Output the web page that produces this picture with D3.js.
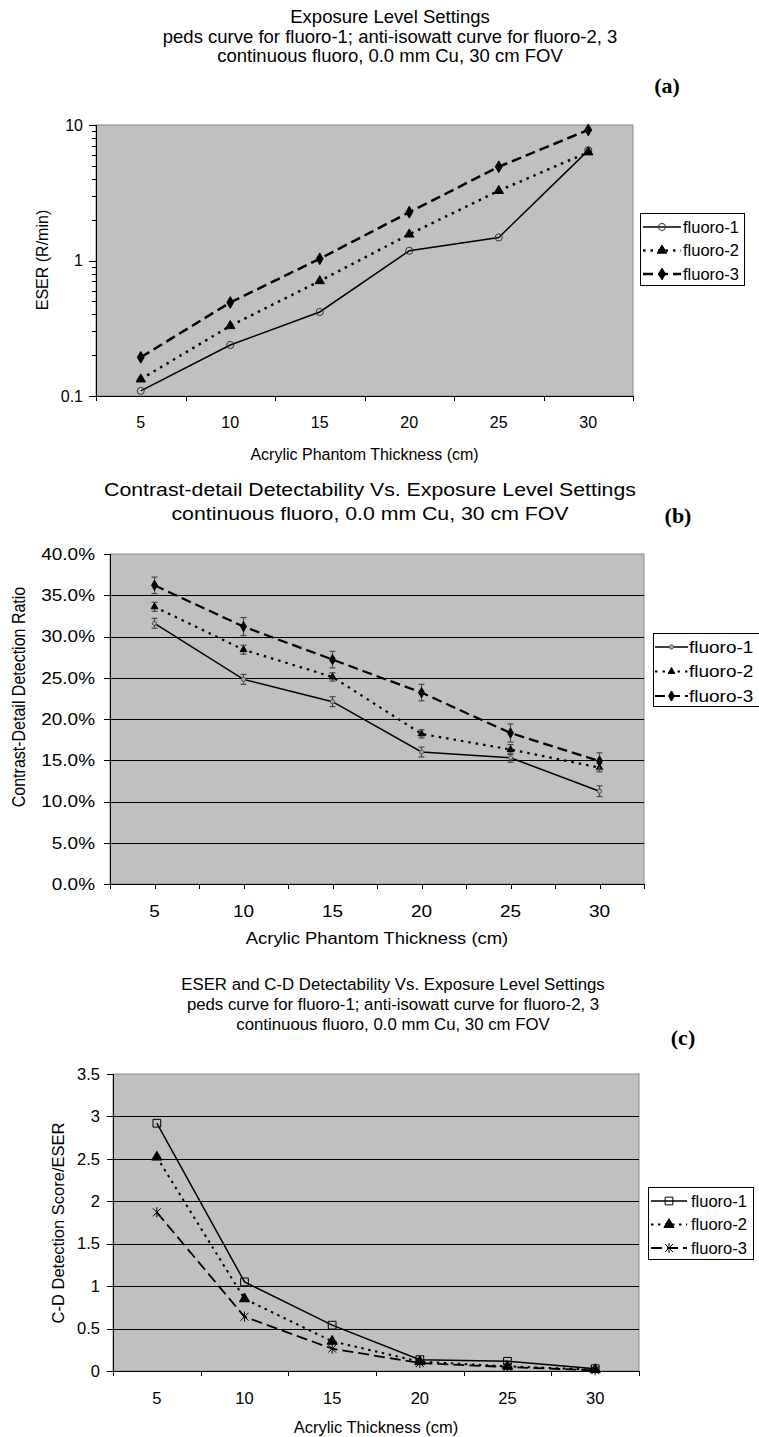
<!DOCTYPE html>
<html lang="en">
<head>
    <meta charset="utf-8">
    <title>Exposure Level Settings - ESER and C-D Detectability</title>
    <style>
        body { margin: 0; background: #fff; }
        svg { display: block; }
    </style>
    <script src="https://d3js.org/d3.v7.min.js"></script>
</head>
<body>
<script>
    // ---- data ----
    const thickness = [5, 10, 15, 20, 25, 30];
    const seriesNames = ["fluoro-1", "fluoro-2", "fluoro-3"];

    // (a) ESER (R/min)
    const eserF1 = [0.109, 0.238, 0.417, 1.18, 1.48, 6.5];
    const eserF2 = [0.133, 0.329, 0.706, 1.56, 3.27, 6.3];
    const eserF3 = [0.193, 0.49, 1.03, 2.27, 4.92, 9.2];

    // (b) contrast-detail detection ratio, with error bar half-widths
    const cdF1 = [0.316, 0.248, 0.221, 0.160, 0.153, 0.1125];
    const cdF2 = [0.336, 0.284, 0.251, 0.182, 0.163, 0.141];
    const cdF3 = [0.362, 0.312, 0.272, 0.232, 0.183, 0.149];
    const cdErrF1 = [0.006, 0.006, 0.006, 0.006, 0.0055, 0.0065];
    const cdErrF2 = [0.0055, 0.0055, 0.005, 0.005, 0.006, 0.005];
    const cdErrF3 = [0.010, 0.011, 0.010, 0.010, 0.011, 0.010];

    // (c) C-D detection score / ESER
    const ratioF1 = [2.92, 1.05, 0.54, 0.134, 0.114, 0.027];
    const ratioF2 = [2.52, 0.85, 0.35, 0.11, 0.055, 0.016];
    const ratioF3 = [1.87, 0.64, 0.263, 0.094, 0.047, 0.008];

    const titleA = ["Exposure Level Settings",
        "peds curve for fluoro-1; anti-isowatt curve for fluoro-2, 3",
        "continuous fluoro, 0.0 mm Cu, 30 cm FOV"];
    const titleB = ["Contrast-detail Detectability Vs. Exposure Level Settings",
        "continuous fluoro, 0.0 mm Cu, 30 cm FOV"];
    const titleC = ["ESER and C-D Detectability Vs. Exposure Level Settings",
        "peds curve for fluoro-1; anti-isowatt curve for fluoro-2, 3",
        "continuous fluoro, 0.0 mm Cu, 30 cm FOV"];

    const width = 759;
    const height = 1437;
    const FONT = "Arial, 'Liberation Sans', Helvetica, sans-serif";
    const SERIF = "'Times New Roman', 'Liberation Serif', serif";

    const svg = d3.select("body").append("svg")
        .attr("width", width).attr("height", height);

    // text helper; sx stretches horizontally (panel b is wider in the source)
    function label(x, y, s, size, opts = {}) {
        const sx = opts.sx || 1;
        let tf = `translate(${x},${y}) scale(${sx},1)`;
        if (opts.rotate) tf += " rotate(-90)";
        return svg.append("text")
            .attr("transform", tf)
            .attr("dy", "0.35em")
            .attr("text-anchor", opts.anchor || "middle")
            .attr("font-family", opts.family || FONT)
            .attr("font-size", size)
            .attr("font-weight", opts.weight || "normal")
            .attr("fill", "#000")
            .text(s);
    }

    const markers = {
        circle: d3.symbol().type(d3.symbolCircle),
        triangle: d3.symbol().type(d3.symbolTriangle),
        diamond: d3.symbol().type(d3.symbolDiamond),
        square: d3.symbol().type(d3.symbolSquare),
        star: () => "M-4,-4L4,4M-4,4L4,-4M0,-5L0,5"
    };

    function drawMarker(g, x, y, m) {
        const gen = markers[m.shape];
        const p = m.shape === "star" ? gen() : gen.size(m.size)();
        g.append("path")
            .attr("d", p)
            .attr("transform", `translate(${x},${y})`)
            .attr("fill", m.fill)
            .attr("stroke", m.stroke)
            .attr("stroke-width", m.sw || 1);
    }

    // generic panel
    function drawPanel(p) {
        const x = d3.scaleBand().domain(thickness).range([p.left, p.right]);
        const y = p.y;
        const g = svg.append("g");

        g.append("rect")
            .attr("x", p.left).attr("y", p.top)
            .attr("width", p.right - p.left).attr("height", p.bottom - p.top)
            .attr("fill", "#c0c0c0").attr("stroke", "#8a8a8a");

        // gridlines
        if (p.grid) {
            g.selectAll(".grid").data(p.grid).enter().append("line")
                .attr("x1", p.left).attr("x2", p.right)
                .attr("y1", d => Math.round(y(d)) + 0.5).attr("y2", d => Math.round(y(d)) + 0.5)
                .attr("stroke", "#000").attr("stroke-width", 1);
        }

        // y axis
        g.append("line").attr("x1", p.left + 0.5).attr("x2", p.left + 0.5)
            .attr("y1", p.top).attr("y2", p.bottom).attr("stroke", "#000");
        p.yTicks.forEach(t => {
            const len = p.isMajor ? (p.isMajor(t) ? 7 : 4) : 6;
            g.append("line").attr("x1", p.left - len).attr("x2", p.left)
                .attr("y1", Math.round(y(t)) + 0.5).attr("y2", Math.round(y(t)) + 0.5)
                .attr("stroke", "#000");
        });
        p.yLabels.forEach(t => {
            label(p.yLabelX, y(t), p.yFormat(t), p.tickSize, {anchor: "end", sx: p.sx});
        });

        // x axis
        g.append("line").attr("x1", p.left).attr("x2", p.right)
            .attr("y1", p.bottom + 0.5).attr("y2", p.bottom + 0.5).attr("stroke", "#000");
        const steps = p.halfTicks ? 2 : 1;
        for (let i = 0; i <= thickness.length * steps; i++) {
            const tx = Math.round(p.left + i * x.step() / steps) + 0.5;
            g.append("line").attr("x1", tx).attr("x2", tx)
                .attr("y1", p.bottom).attr("y2", p.bottom + 5).attr("stroke", "#000");
        }
        thickness.forEach(t => {
            label(x(t) + x.bandwidth() / 2, p.xLabelY, t, p.tickSize, {sx: p.sx});
        });
        label((p.left + p.right) / 2, p.xTitleY, p.xTitle, p.axisSize, {sx: p.sx});
        label(p.yTitleX, p.yTitleY, p.yTitle, p.axisSize, {rotate: true, sx: p.sx});

        // titles
        p.title.forEach((s, i) => {
            label(p.titleX, p.titleY + i * p.titleStep, s, p.titleSize, {sx: p.sx});
        });
        label(p.tagX, p.tagY, p.tag, p.tagSize, {family: SERIF, weight: "bold"});

        const cx = t => x(t) + x.bandwidth() / 2;

        // series
        p.series.forEach(s => {
            if (s.err) {
                s.values.forEach((v, i) => {
                    const xx = cx(thickness[i]);
                    const y0 = y(v - s.err[i]), y1 = y(v + s.err[i]);
                    g.append("line").attr("x1", xx).attr("x2", xx).attr("y1", y0).attr("y2", y1)
                        .attr("stroke", "#4a4a4a").attr("stroke-width", 1.2);
                    [y0, y1].forEach(yy => g.append("line")
                        .attr("x1", xx - 3).attr("x2", xx + 3).attr("y1", yy).attr("y2", yy)
                        .attr("stroke", "#4a4a4a").attr("stroke-width", 1.2));
                });
            }
            const line = d3.line().x((d, i) => cx(thickness[i])).y(d => y(d));
            g.append("path").datum(s.values)
                .attr("d", line)
                .attr("fill", "none")
                .attr("stroke", "#000")
                .attr("stroke-width", s.width)
                .attr("stroke-dasharray", s.dash || null);
            s.values.forEach((v, i) => drawMarker(g, cx(thickness[i]), y(v), s.marker));
        });

        // legend
        const L = p.legend;
        g.append("rect").attr("x", L.x + 0.5).attr("y", L.y + 0.5)
            .attr("width", L.w).attr("height", L.h)
            .attr("fill", "#fff").attr("stroke", "#000");
        p.series.forEach((s, i) => {
            const ly = L.rowY + i * L.rowStep;
            g.append("line").attr("x1", L.lineX0).attr("x2", L.lineX1)
                .attr("y1", ly).attr("y2", ly)
                .attr("stroke", "#000").attr("stroke-width", s.width)
                .attr("stroke-dasharray", s.dash || null);
            drawMarker(g, (L.lineX0 + L.lineX1) / 2, ly, s.marker);
            label(L.textX, ly, seriesNames[i], p.legendSize, {anchor: "start", sx: p.sx});
        });
    }

    // ---- panel (a) ----
    const yA = d3.scaleLog().domain([0.1, 10]).range([396, 125]);
    drawPanel({
        left: 96, right: 633, top: 125, bottom: 396, y: yA, sx: 1,
        yTicks: yA.ticks(), isMajor: t => Math.abs(Math.log10(t) - Math.round(Math.log10(t))) < 1e-9,
        yLabels: [0.1, 1, 10], yFormat: d => String(d), yLabelX: 83,
        halfTicks: false, xLabelY: 422, xTitleY: 454, xTitle: "Acrylic Phantom Thickness (cm)",
        yTitleX: 42, yTitleY: 260, yTitle: "ESER (R/min)",
        tickSize: 16, axisSize: 16, titleSize: 18.5, title: titleA,
        titleX: 390, titleY: 17, titleStep: 19.5,
        tag: "(a)", tagX: 667, tagY: 85, tagSize: 22,
        legendSize: 16.5,
        legend: {x: 640, y: 213, w: 104, h: 72, rowY: 227, rowStep: 23.5, lineX0: 643, lineX1: 681, textX: 683},
        series: [
            {values: eserF1, width: 1.5, marker: {shape: "circle", size: 40, fill: "none", stroke: "#333"}},
            {values: eserF2, width: 2.5, dash: "2.5,5", marker: {shape: "triangle", size: 38, fill: "#000", stroke: "#000"}},
            {values: eserF3, width: 2.5, dash: "10,5", marker: {shape: "diamond", size: 40, fill: "#000", stroke: "#000"}}
        ]
    });

    // ---- panel (b) ----
    const yB = d3.scaleLinear().domain([0, 0.4]).range([884, 554]);
    const fmtPct = d3.format(".1%");
    drawPanel({
        left: 110, right: 644, top: 554, bottom: 884, y: yB, sx: 1.15,
        grid: d3.range(0.05, 0.399, 0.05),
        yTicks: d3.range(0, 0.401, 0.05), yLabels: d3.range(0, 0.401, 0.05),
        yFormat: d => fmtPct(d), yLabelX: 95,
        halfTicks: true, xLabelY: 911, xTitleY: 938, xTitle: "Acrylic Phantom Thickness (cm)",
        yTitleX: 18.5, yTitleY: 697, yTitle: "Contrast-Detail Detection Ratio",
        tickSize: 16.5, axisSize: 16, titleSize: 18.5, title: titleB,
        titleX: 370, titleY: 490, titleStep: 24,
        tag: "(b)", tagX: 678, tagY: 515, tagSize: 22,
        legendSize: 16.5,
        legend: {x: 653, y: 633, w: 120, h: 73, rowY: 647, rowStep: 24.5, lineX0: 655, lineX1: 688, textX: 689},
        series: [
            {values: cdF1, err: cdErrF1, width: 1.5, marker: {shape: "circle", size: 14, fill: "#aaa", stroke: "#555"}},
            {values: cdF2, err: cdErrF2, width: 2.2, dash: "2.5,5", marker: {shape: "triangle", size: 20, fill: "#000", stroke: "#000"}},
            {values: cdF3, err: cdErrF3, width: 2.2, dash: "10,5", marker: {shape: "diamond", size: 30, fill: "#000", stroke: "#000"}}
        ]
    });

    // ---- panel (c) ----
    const yC = d3.scaleLinear().domain([0, 3.5]).range([1371, 1074]);
    drawPanel({
        left: 113, right: 639, top: 1074, bottom: 1371, y: yC, sx: 1,
        grid: d3.range(0.5, 3.49, 0.5),
        yTicks: d3.range(0, 3.51, 0.5), yLabels: d3.range(0, 3.51, 0.5),
        yFormat: d => String(+d.toFixed(1)), yLabelX: 100,
        halfTicks: false, xLabelY: 1398, xTitleY: 1427, xTitle: "Acrylic Thickness (cm)",
        yTitleX: 58, yTitleY: 1223, yTitle: "C-D Detection Score/ESER",
        tickSize: 16.5, axisSize: 16.5, titleSize: 16.8, title: titleC,
        titleX: 393, titleY: 984, titleStep: 20,
        tag: "(c)", tagX: 683, tagY: 1037, tagSize: 22,
        legendSize: 16.5,
        legend: {x: 648, y: 1187, w: 105, h: 72, rowY: 1201, rowStep: 23.5, lineX0: 651, lineX1: 687, textX: 691},
        series: [
            {values: ratioF1, width: 1.5, marker: {shape: "square", size: 60, fill: "none", stroke: "#000"}},
            {values: ratioF2, width: 2, dash: "2.5,4.5", marker: {shape: "triangle", size: 45, fill: "#000", stroke: "#000"}},
            {values: ratioF3, width: 1.8, dash: "11,5", marker: {shape: "star", fill: "none", stroke: "#000", sw: 1}}
        ]
    });
</script>
</body>
</html>
